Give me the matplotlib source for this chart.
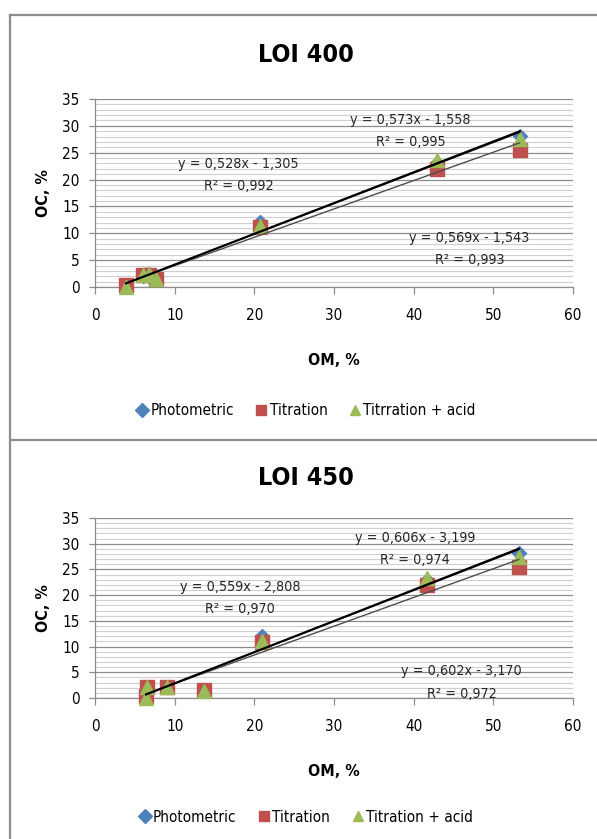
import matplotlib
matplotlib.use("Agg")
import matplotlib.pyplot as plt
from matplotlib.lines import Line2D
from matplotlib.ticker import MultipleLocator

plt.rcParams["font.family"] = ["DejaVu Sans"]
plt.rcParams["font.stretch"] = "condensed"

W, H = 597, 839

legend_400 = ["Photometric", "Titration", "Titrration + acid"]
legend_450 = ["Photometric", "Titration", "Titration + acid"]

# LOI 400
om_400 = [3.9, 6.0, 6.8, 7.6, 20.7, 42.9, 53.3]
photo_400 = [0.4, 2.0, 2.4, 1.7, 12.1, 23.0, 28.2]
titr_400 = [0.3, 2.2, 2.2, 1.5, 11.1, 22.0, 25.5]
acid_400 = [0.0, 2.2, 2.5, 1.5, 11.4, 23.6, 27.6]
slope_400 = [0.573, 0.528, 0.569]
icpt_400 = [-1.558, -1.305, -1.543]
r2_400 = [0.995, 0.992, 0.993]

# LOI 450
om_450 = [6.4, 6.5, 9.1, 13.7, 21.0, 41.7, 53.2]
photo_450 = [0.4, 2.0, 2.2, 1.6, 12.1, 23.0, 28.2]
titr_450 = [0.3, 2.2, 2.1, 1.5, 10.9, 21.9, 25.4]
acid_450 = [0.0, 2.1, 2.1, 1.3, 11.1, 23.3, 27.5]
slope_450 = [0.606, 0.559, 0.602]
icpt_450 = [-3.199, -2.808, -3.170]
r2_450 = [0.974, 0.970, 0.972]

colors = ["#4F81BD", "#C0504D", "#9BBB59"]
markers = ["D", "s", "^"]
msizes = [7.5, 9.5, 10]
trend_colors = ["#000000", "#4d4d4d", "#1a1a1a"]
trend_widths = [1.5, 1.0, 1.0]


def fmt(v):
    return f"{v:.3f}".replace(".", ",")


def draw_chart(ax, om, ys, slopes, icpts, r2s, label_pos, legend_labels, title, title_y, legend_y):
    ax.set_xlim(0, 60)
    ax.set_ylim(0, 35)
    ax.yaxis.set_major_locator(MultipleLocator(5))
    ax.yaxis.set_minor_locator(MultipleLocator(1))
    ax.xaxis.set_major_locator(MultipleLocator(10))
    ax.grid(True, which="major", axis="y", color="#8c8c8c", lw=0.9)
    ax.grid(True, which="minor", axis="y", color="#cfcfcf", lw=0.8)
    ax.set_axisbelow(True)
    for s in ["top", "right"]:
        ax.spines[s].set_visible(False)
    for s in ["left", "bottom"]:
        ax.spines[s].set_color("#8c8c8c")
        ax.spines[s].set_linewidth(0.9)
    ax.tick_params(axis="x", which="major", direction="out", length=5, width=0.9,
                   color="#8c8c8c", pad=10, labelsize=11)
    ax.tick_params(axis="y", which="major", direction="out", length=4, width=0.9,
                   color="#8c8c8c", pad=7, labelsize=11)
    ax.tick_params(axis="y", which="minor", length=0)

    handles = []
    for i, y in enumerate(ys):
        ax.plot(om, y, ls="none", marker=markers[i], ms=msizes[i], color=colors[i],
                zorder=3 + i, clip_on=False)
        handles.append(Line2D([], [], ls="none", marker=markers[i], ms=7, color=colors[i]))

    x0, x1 = min(om), max(om)
    order = [1, 2, 0]
    for i in order:
        ax.plot([x0, x1], [slopes[i] * x0 + icpts[i], slopes[i] * x1 + icpts[i]],
                color=trend_colors[i], lw=trend_widths[i], zorder=7)

    for i, (tx, ty) in enumerate(label_pos):
        eq = f"y = {fmt(slopes[i])}x - {fmt(abs(icpts[i]))}\nR² = {fmt(r2s[i])}"
        ax.text(tx, ty, eq, ha="center", va="center", fontsize=10.3, color="#262626",
                linespacing=1.75, zorder=8)

    ax.set_xlabel("OM, %", fontsize=11.5, fontweight="bold", labelpad=22)
    ax.set_ylabel("OC, %", fontsize=11.5, fontweight="bold", labelpad=8)

    fig = ax.figure
    fig.text(306 / W, 1 - title_y / H, title, ha="center", va="center",
             fontsize=18, fontweight="bold")
    ax.legend(handles, legend_labels, loc="center", ncol=3, frameon=False,
              bbox_to_anchor=(305 / W, 1 - legend_y / H), bbox_transform=fig.transFigure,
              fontsize=11, handletextpad=0.05, columnspacing=1.3, handlelength=1.0)


fig = plt.figure(figsize=(W / 100, H / 100), dpi=100)

ax1 = fig.add_axes([95 / W, 1 - 287 / H, 478 / W, 188 / H])
draw_chart(ax1, om_400, [photo_400, titr_400, acid_400], slope_400, icpt_400, r2_400,
           [(39.6, 29.0), (18.0, 20.8), (47.0, 7.1)], legend_400, "LOI 400", 55, 411)

ax2 = fig.add_axes([95 / W, 1 - 698 / H, 478 / W, 180 / H])
draw_chart(ax2, om_450, [photo_450, titr_450, acid_450], slope_450, icpt_450, r2_450,
           [(40.2, 29.0), (18.2, 19.4), (46.0, 3.0)], legend_450, "LOI 450", 478, 817)

# outer chart frames
frame = dict(color="#8c8c8c", lw=1.6, transform=fig.transFigure)
fig.add_artist(Line2D([10 / W, 10 / W], [1 - 15 / H, 0], **frame))
fig.add_artist(Line2D([10 / W, 1], [1 - 15 / H, 1 - 15 / H], **frame))
fig.add_artist(Line2D([10 / W, 1], [1 - 440 / H, 1 - 440 / H], **frame))

fig.savefig("out.png", dpi=100)
